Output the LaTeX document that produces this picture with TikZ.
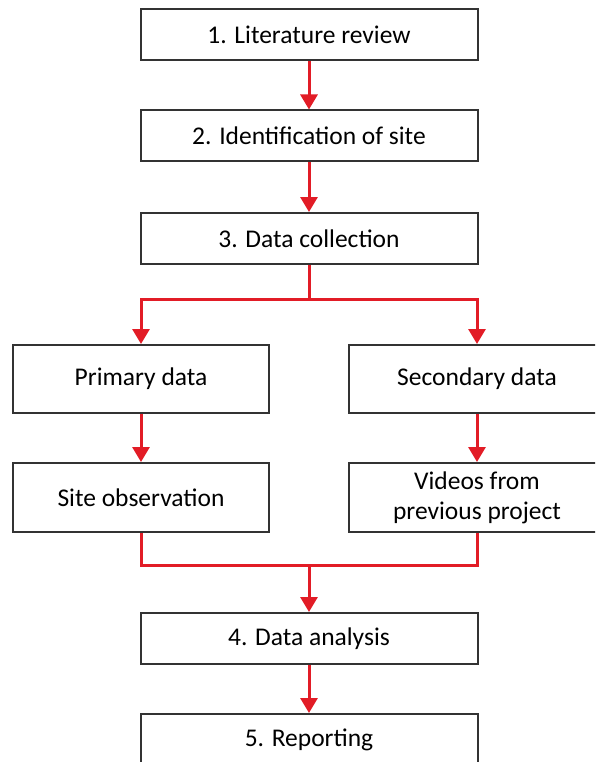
\documentclass[tikz,border=0pt]{standalone}
\usepackage{fontspec}
\setmainfont{Carlito}
\usetikzlibrary{arrows.meta}
\definecolor{flowred}{RGB}{226,28,38}
\tikzset{
  stage/.style={draw=black!80,line width=2pt,fill=white,inner sep=0pt,
    minimum width=337pt,minimum height=51pt,align=center,
    font=\fontsize{25.5}{30}\selectfont},
  half/.style={stage,minimum width=256pt,minimum height=68pt},
  flow/.style={flowred,line width=3pt,-{Triangle[width=17pt,length=15pt]}},
  flowline/.style={flowred,line width=3pt}
}
\begin{document}
\begin{tikzpicture}[x=1pt,y=-1pt]
\useasboundingbox (0,0) rectangle (595,762);
\clip (0,0) rectangle (595,762);
% main stages down the middle
\node [stage] (lit) at (309,34.5) {1. Literature review};
\node [stage] (site) at (309,136) {2. Identification of site};
\node [stage] (coll) at (309,238.5) {3. Data collection};
% the two kinds of data
\node [half] (prim) at (141,379) {Primary data};
\node [half] (sec) at (477,379) {Secondary data};
\node [half,minimum height=69pt] (obs) at (141,497.5) {Site observation};
\node [half,minimum height=69pt] (vid) at (477,497.5) {Videos from\\previous project};
\node [stage] (anal) at (309,638.5) {4. Data analysis};
\node [stage,minimum height=52pt] (rep) at (309,740) {5. Reporting};
\coordinate (split) at (309,299);
\coordinate (merge) at (309,565);
% connectors
\draw [flow] (lit) -- (site);
\draw [flow] (site) -- (coll);
\draw [flowline] (coll) -- (split);
\draw [flow] (split) -| (prim);
\draw [flow] (split) -| (sec);
\draw [flow] (prim) -- (obs);
\draw [flow] (sec) -- (vid);
\draw [flowline] (obs.south) |- (merge);
\draw [flowline] (vid.south) |- (merge);
\draw [flow] (merge) -- (anal);
\draw [flow] (anal) -- (rep);
\end{tikzpicture}
\end{document}
